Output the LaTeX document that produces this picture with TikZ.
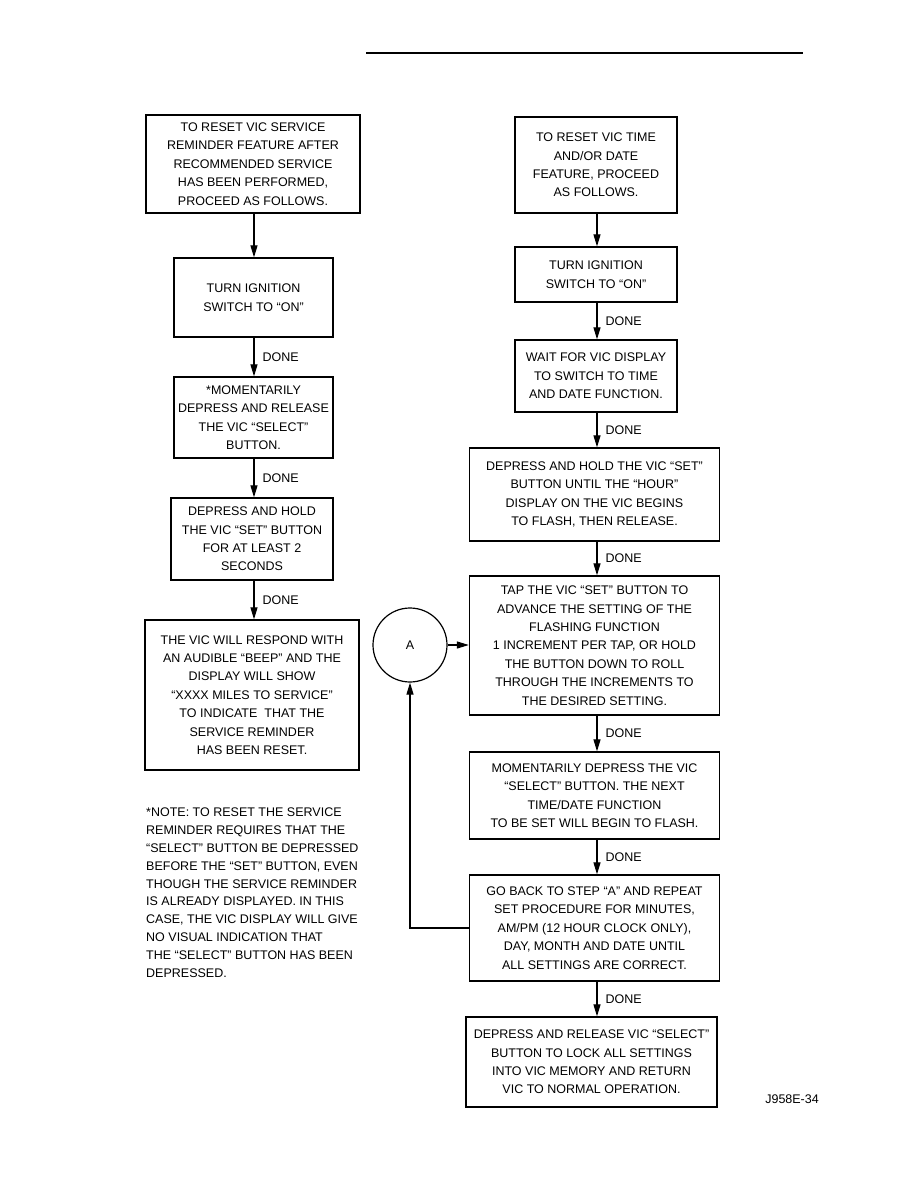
\documentclass[tikz,border=0pt]{standalone}
\usepackage{fontspec}
\setmainfont{Liberation Sans}
\usetikzlibrary{arrows.meta,calc}
\begin{document}
\begin{tikzpicture}[x=1pt,y=-1pt,
  every node/.style={font=\fontsize{12.5}{18.4}\selectfont},
  box/.style={draw,line width=1.3pt,align=center,inner sep=0pt},
  arr/.style={line width=1.2pt,-{Triangle[length=12pt,width=7pt]}},
  lab/.style={anchor=west,inner sep=0pt}]
\useasboundingbox (0,0) rectangle (918,1188);
\coordinate (r1) at (366,53);
\coordinate (r2) at (803,53);
\draw[line width=2pt] (r1) -- (r2);
% left column
\node[box,minimum width=214pt,minimum height=98pt] (L1) at (253,164) {TO RESET VIC SERVICE\\REMINDER FEATURE AFTER\\RECOMMENDED SERVICE\\HAS BEEN PERFORMED,\\PROCEED AS FOLLOWS.};
\node[box,minimum width=159pt,minimum height=79pt] (L2) at (253.5,297.5) {TURN IGNITION\\SWITCH TO ``ON''};
\node[box,minimum width=159pt,minimum height=81pt] (L3) at (253.5,417.5) {*MOMENTARILY\\DEPRESS AND RELEASE\\THE VIC ``SELECT''\\BUTTON.};
\node[box,minimum width=162pt,minimum height=82pt] (L4) at (252,539) {DEPRESS AND HOLD\\THE VIC ``SET'' BUTTON\\FOR AT LEAST 2\\SECONDS};
\node[box,minimum width=214pt,minimum height=150pt] (L5) at (252,695) {THE VIC WILL RESPOND WITH\\AN AUDIBLE ``BEEP'' AND THE\\DISPLAY WILL SHOW\\``XXXX MILES TO SERVICE''\\TO INDICATE\ \ THAT THE\\SERVICE REMINDER\\HAS BEEN RESET.};
\node[align=left,anchor=north west,inner sep=0pt,font=\fontsize{12.5}{17.8}\selectfont] (note) at (146,808) {*NOTE: TO RESET THE SERVICE\\REMINDER REQUIRES THAT THE\\``SELECT'' BUTTON BE DEPRESSED\\BEFORE THE ``SET'' BUTTON, EVEN\\THOUGH THE SERVICE REMINDER\\IS ALREADY DISPLAYED. IN THIS\\CASE, THE VIC DISPLAY WILL GIVE\\NO VISUAL INDICATION THAT\\THE ``SELECT'' BUTTON HAS BEEN\\DEPRESSED.};
\draw[arr] (L1.south -| 254,0) -- (L2.north -| 254,0);
\draw[arr] (L2.south -| 254,0) -- node[lab,right=8pt] (d1) {DONE} (L3.north -| 254,0);
\draw[arr] (L3.south -| 254,0) -- node[lab,right=8pt] (d2) {DONE} (L4.north -| 254,0);
\draw[arr] (L4.south -| 254,0) -- node[lab,right=8pt] (d3) {DONE} (L5.north -| 254,0);
% right column
\node[box,minimum width=162pt,minimum height=96pt] (R1) at (596,165) {TO RESET VIC TIME\\AND/OR DATE\\FEATURE, PROCEED\\AS FOLLOWS.};
\node[box,minimum width=162pt,minimum height=55pt] (R2) at (596,274.5) {TURN IGNITION\\SWITCH TO ``ON''};
\node[box,minimum width=162pt,minimum height=72pt] (R3) at (596,376) {WAIT FOR VIC DISPLAY\\TO SWITCH TO TIME\\AND DATE FUNCTION.};
\node[box,minimum width=250pt,minimum height=93pt] (R4) at (594.5,494.5) {DEPRESS AND HOLD THE VIC ``SET''\\BUTTON UNTIL THE ``HOUR''\\DISPLAY ON THE VIC BEGINS\\TO FLASH, THEN RELEASE.};
\node[box,minimum width=250pt,minimum height=139pt] (R5) at (594.5,645.5) {TAP THE VIC ``SET'' BUTTON TO\\ADVANCE THE SETTING OF THE\\FLASHING FUNCTION\\1 INCREMENT PER TAP, OR HOLD\\THE BUTTON DOWN TO ROLL\\THROUGH THE INCREMENTS TO\\THE DESIRED SETTING.};
\node[box,minimum width=250pt,minimum height=87pt] (R6) at (594.5,795.5) {MOMENTARILY DEPRESS THE VIC\\``SELECT'' BUTTON. THE NEXT\\TIME/DATE FUNCTION\\TO BE SET WILL BEGIN TO FLASH.};
\node[box,minimum width=250pt,minimum height=106pt] (R7) at (594.5,928) {GO BACK TO STEP ``A'' AND REPEAT\\SET PROCEDURE FOR MINUTES,\\AM/PM (12 HOUR CLOCK ONLY),\\DAY, MONTH AND DATE UNTIL\\ALL SETTINGS ARE CORRECT.};
\node[box,minimum width=251pt,minimum height=90pt] (R8) at (591.5,1062) {DEPRESS AND RELEASE VIC ``SELECT''\\BUTTON TO LOCK ALL SETTINGS\\INTO VIC MEMORY AND RETURN\\VIC TO NORMAL OPERATION.};
\draw[arr] (R1.south -| 597,0) -- (R2.north -| 597,0);
\draw[arr] (R2.south -| 597,0) -- node[lab,right=8pt] (d4) {DONE} (R3.north -| 597,0);
\draw[arr] (R3.south -| 597,0) -- node[lab,right=8pt] (d5) {DONE} (R4.north -| 597,0);
\draw[arr] (R4.south -| 597,0) -- node[lab,right=8pt] (d6) {DONE} (R5.north -| 597,0);
\draw[arr] (R5.south -| 597,0) -- node[lab,right=8pt] (d7) {DONE} (R6.north -| 597,0);
\draw[arr] (R6.south -| 597,0) -- node[lab,right=8pt] (d8) {DONE} (R7.north -| 597,0);
\draw[arr] (R7.south -| 597,0) -- node[lab,right=8pt] (d9) {DONE} (R8.north -| 597,0);
% connector A
\node[draw,circle,line width=1.2pt,minimum size=74pt,inner sep=0pt] (A) at (410,645) {A};
\draw[arr] (A.east) -- (A.east -| R5.west);
\draw[arr] (R7.west) -| (A.south);
\node[anchor=east,inner sep=0pt] (id) at (819,1099) {J958E-34};
\end{tikzpicture}
\end{document}
